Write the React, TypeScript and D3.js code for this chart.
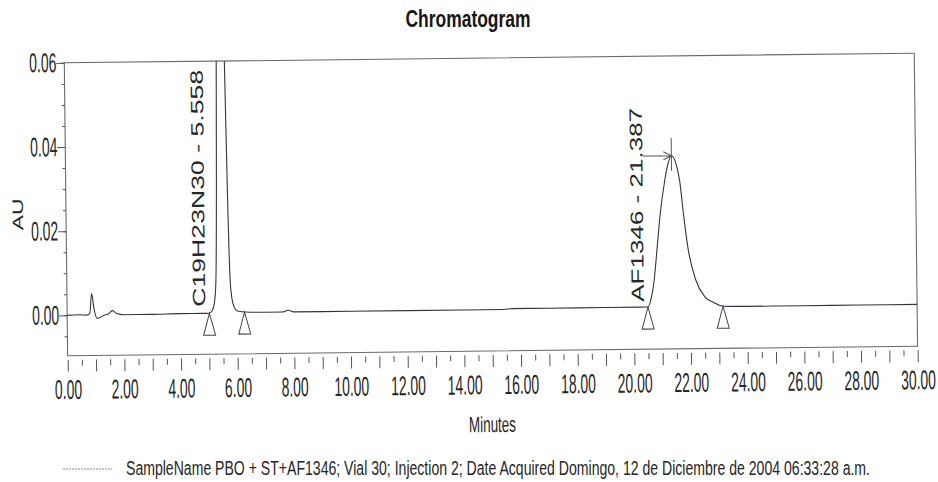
import React, { useEffect, useRef } from "react";
import * as d3 from "d3";

// detector trace, [minutes, AU]
const injectionNoise: [number, number][] = [
  [0, 0.0], [0.4, 0.0001], [0.7, 0.0], [0.8, 0.0004], [0.87, 0.0051], [0.95, 0.0015],
  [1.05, -0.0008], [1.15, -0.0006], [1.3, -0.0001], [1.45, 0.0002], [1.6, 0.001],
  [1.75, 0.0003], [2.0, 0.0], [3.0, 0.0], [4.0, 0.0001], [4.8, 0.0001],
];
const peak1Trace: [number, number][] = [
  [5.0, 0.0001], [5.12, 0.0007], [5.2, 0.0025], [5.26, 0.0073], [5.32, 0.031], [5.36, 0.059],
  [5.43, 0.1], [5.558, 0.125], [5.6, 0.1], [5.65, 0.059], [5.7, 0.031], [5.77, 0.0073],
  [5.85, 0.0025], [5.95, 0.0009], [6.05, 0.0005], [6.3, 0.0003],
];
const midBaseline: [number, number][] = [
  [7.0, 0.0002], [7.6, 0.0002], [7.8, 0.0006], [8.0, 0.0002], [10, 0.0002], [12, 0.0002],
  [14, 0.0002], [15.4, 0.0002], [15.7, 0.0004], [17, 0.0004], [19, 0.0004], [20.2, 0.0004],
];
const peak2Trace: [number, number][] = [
  [20.5, 0.0004], [20.62, 0.0025], [20.73, 0.0067], [20.85, 0.0146], [20.97, 0.0225],
  [21.14, 0.0303], [21.26, 0.0343], [21.387, 0.0363], [21.55, 0.0343], [21.67, 0.0303],
  [21.79, 0.0225], [21.93, 0.0146], [22.2, 0.0067], [22.5, 0.0028], [22.85, 0.0012], [23.15, 0.0004],
];
const tailBaseline: [number, number][] = [
  [24, 0.0003], [26, 0.0003], [28, 0.0003], [30, 0.0003],
];

const peakLabels = ["C19H23N30 - 5.558", "AF1346 - 21.387"];
const peakStarts = [5.02, 20.5];
const peakEnds = [6.26, 23.15];
const peakStartAU = [0.0001, 0.0004];
const peakEndAU = [0.0003, 0.0004];
const apexTime = 21.387;
const apexAU = 0.0363;

const xMajorTicks = [0, 2, 4, 6, 8, 10, 12, 14, 16, 18, 20, 22, 24, 26, 28, 30];
const yMajorTicks = [0, 0.02, 0.04, 0.06];

const legendText =
  "SampleName PBO + ST+AF1346; Vial 30; Injection 2; Date Acquired Domingo, 12 de Diciembre de 2004 06:33:28 a.m.";

const FONT = "'Liberation Sans', Arial, sans-serif";
const INK = "#262626";

export default function App() {
  const ref = useRef<SVGSVGElement>(null);

  useEffect(() => {
    const svg = d3.select(ref.current);
    svg.selectAll("*").remove();

    const left = 66, right = 916, top = 58, bottom = 351;
    const x = d3.scaleLinear().domain([0, 30]).range([left, right]);
    const y = d3.scaleLinear().domain([-0.00962, 0.06]).range([bottom, top]);
    const fmt = d3.format(".2f");
    // the printout is squashed sideways, so text is drawn narrow
    const tickFont = 27;
    const tickSx = 0.515;
    const numWidth = (s: string) => (s.replace(".", "").length * 0.556 + 0.278) * tickFont * tickSx;

    svg.append("rect").attr("width", 938).attr("height", 482).attr("fill", "#fff");

    svg.append("defs").append("clipPath").attr("id", "plotclip")
      .append("rect").attr("x", left).attr("y", top).attr("width", right - left).attr("height", bottom - top);

    // the scan is slightly tilted
    const g = svg.append("g").attr("transform", "rotate(-0.65 491 210)");

    g.append("rect")
      .attr("x", left).attr("y", top).attr("width", right - left).attr("height", bottom - top)
      .attr("fill", "none").attr("stroke", "#6a6a6a").attr("stroke-width", 1.1);

    // y axis
    const yMinor = d3.range(-0.005, 0.0601, 0.005);
    g.append("g").attr("transform", `translate(${left},0)`)
      .call(d3.axisLeft(y).tickValues(yMinor).tickSize(3).tickFormat(() => ""))
      .call((s) => s.select(".domain").remove());
    const yAx = g.append("g").attr("transform", `translate(${left},0)`)
      .call(d3.axisLeft(y).tickValues(yMajorTicks).tickSize(8).tickPadding(0).tickFormat(fmt))
      .call((s) => s.select(".domain").remove());
    yAx.selectAll("text")
      .attr("font-family", FONT).attr("font-size", tickFont).attr("fill", INK)
      .attr("x", -8 / tickSx)
      .attr("transform", `scale(${tickSx},1)`)
      .attr("textLength", (d: any) => numWidth(fmt(d)) / tickSx)
      .attr("lengthAdjust", "spacingAndGlyphs");

    // x axis
    const xAxisY = bottom + 4;
    g.append("g").attr("transform", `translate(0,${xAxisY})`)
      .call(d3.axisBottom(x).tickValues(d3.range(0.5, 30, 1)).tickSize(6).tickFormat(() => ""))
      .call((s) => s.select(".domain").remove());
    const xAx = g.append("g").attr("transform", `translate(0,${xAxisY})`)
      .call(d3.axisBottom(x).tickValues(d3.range(0, 31, 1)).tickSize(12).tickPadding(8)
        .tickFormat((d: any) => (xMajorTicks.includes(d) ? fmt(d) : "")))
      .call((s) => s.select(".domain").remove());
    xAx.selectAll("text")
      .filter((d: any) => xMajorTicks.includes(d))
      .attr("font-family", FONT).attr("font-size", tickFont).attr("fill", INK)
      .attr("transform", `scale(${tickSx},1)`)
      .attr("textLength", (d: any) => numWidth(fmt(d)) / tickSx)
      .attr("lengthAdjust", "spacingAndGlyphs");
    g.selectAll(".tick line").attr("stroke", "#555");

    // axis titles
    g.append("text")
      .attr("transform", "translate(23,209) scale(0.66,1) rotate(-90)")
      .attr("text-anchor", "middle").attr("font-family", FONT).attr("font-size", 23).attr("fill", INK)
      .text("AU");
    g.append("text")
      .attr("transform", "translate(490,432) scale(0.61,1)")
      .attr("text-anchor", "middle")
      .attr("font-family", FONT).attr("font-size", 22).attr("fill", INK)
      .attr("textLength", 47 / 0.61).attr("lengthAdjust", "spacingAndGlyphs")
      .text("Minutes");

    // trace
    const trace = [...injectionNoise, ...peak1Trace, ...midBaseline, ...peak2Trace, ...tailBaseline];
    const line = d3.line<[number, number]>()
      .x((d) => x(d[0])).y((d) => y(d[1]))
      .curve(d3.curveMonotoneX);
    g.append("path")
      .attr("d", line(trace))
      .attr("clip-path", "url(#plotclip)")
      .attr("fill", "none").attr("stroke", "#34343e").attr("stroke-width", 1.1);

    // integration markers
    const tri = (t: number, v: number) => {
      const px = x(t), py = y(v);
      return `M${px},${py}L${px - 6},${py + 22}L${px + 6},${py + 22}Z`;
    };
    peakStarts.forEach((t, i) => {
      g.append("path").attr("d", tri(t, peakStartAU[i]))
        .attr("fill", "#fff").attr("stroke", "#444").attr("stroke-width", 1);
      g.append("path").attr("d", tri(peakEnds[i], peakEndAU[i]))
        .attr("fill", "#fff").attr("stroke", "#444").attr("stroke-width", 1);
    });

    // peak labels
    const labelLengths = [237, 194];
    peakLabels.forEach((lab, i) => {
      const lx = x(peakStarts[i]) - 4;
      const ly = y(0) - 7;
      g.append("text")
        .attr("transform", `translate(${lx},${ly}) scale(0.67,1) rotate(-90)`)
        .attr("font-family", FONT).attr("font-size", 26.5).attr("fill", INK)
        .attr("textLength", labelLengths[i]).attr("lengthAdjust", "spacingAndGlyphs")
        .text(lab);
    });

    // apex arrow on the second peak
    const ax = x(apexTime), ay = y(apexAU);
    const arrowFrom = x(peakStarts[1]) - 4;
    g.append("path")
      .attr("d", `M${arrowFrom},${ay}L${ax},${ay}M${ax - 8},${ay - 4}L${ax},${ay}L${ax - 8},${ay + 4}M${ax},${ay - 18}L${ax},${ay + 15}`)
      .attr("fill", "none").attr("stroke", "#555").attr("stroke-width", 1);

    // title and legend (level on the page)
    svg.append("text")
      .attr("transform", "translate(468,27) scale(0.73,1)")
      .attr("text-anchor", "middle")
      .attr("font-family", FONT).attr("font-weight", "bold").attr("font-size", 24).attr("fill", "#161616")
      .attr("textLength", 125 / 0.73).attr("lengthAdjust", "spacingAndGlyphs")
      .text("Chromatogram");
    svg.append("line")
      .attr("x1", 63).attr("x2", 112).attr("y1", 469).attr("y2", 469)
      .attr("stroke", "#888").attr("stroke-width", 1.2).attr("stroke-dasharray", "2,1");
    svg.append("text")
      .attr("transform", "translate(126,474.5) scale(0.65,1)")
      .attr("font-family", FONT).attr("font-size", 21).attr("fill", INK)
      .attr("textLength", 744 / 0.65).attr("lengthAdjust", "spacingAndGlyphs")
      .text(legendText);
  }, []);

  return (
    <svg
      ref={ref}
      width={938}
      height={482}
      style={{ position: "absolute", left: 0, top: 0, display: "block" }}
    />
  );
}
